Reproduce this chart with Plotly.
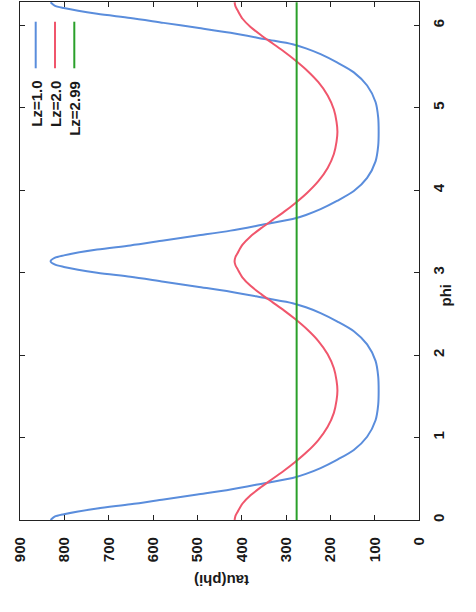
import plotly.graph_objects as go

# ---- data (phi in rad, tau(phi)) ----
phi_lz1 = [0.00, 0.04, 0.07, 0.14, 0.19, 0.25, 0.31, 0.37, 0.45, 0.51, 0.56, 0.63, 0.73, 0.85, 1.01, 1.21, 1.40, 1.57,
           1.74, 1.93, 2.13, 2.29, 2.41, 2.51, 2.58, 2.63, 2.69, 2.77, 2.83, 2.89, 2.95, 3.00, 3.07, 3.10, 3.14,
           3.18, 3.21, 3.28, 3.33, 3.39, 3.45, 3.51, 3.59, 3.65, 3.70, 3.77, 3.87, 3.99, 4.15, 4.35, 4.54, 4.71,
           4.88, 5.07, 5.27, 5.43, 5.55, 5.65, 5.72, 5.77, 5.83, 5.91, 5.97, 6.03, 6.09, 6.14, 6.21, 6.24, 6.28]
tau_lz1 = [831, 822, 801, 726, 651, 576, 500, 425, 345, 285, 255, 222, 185, 147, 117, 98, 92, 91,
           92, 98, 117, 147, 185, 222, 255, 285, 345, 425, 500, 576, 651, 726, 801, 822, 831,
           822, 801, 726, 651, 576, 500, 425, 345, 285, 255, 222, 185, 147, 117, 98, 92, 91,
           92, 98, 117, 147, 185, 222, 255, 285, 345, 425, 500, 576, 651, 726, 801, 822, 831]

phi_lz2 = [0.00, 0.05, 0.10, 0.20, 0.30, 0.40, 0.50, 0.60, 0.70, 0.83, 0.97, 1.13, 1.30, 1.45, 1.57,
           1.69, 1.84, 2.01, 2.17, 2.31, 2.44, 2.54, 2.64, 2.74, 2.84, 2.94, 3.04, 3.09, 3.14,
           3.19, 3.24, 3.34, 3.44, 3.54, 3.64, 3.74, 3.84, 3.97, 4.11, 4.27, 4.44, 4.59, 4.71,
           4.83, 4.98, 5.15, 5.31, 5.45, 5.58, 5.68, 5.78, 5.88, 5.98, 6.08, 6.18, 6.23, 6.28]
tau_lz2 = [416, 414, 409, 398, 380, 356, 330, 304, 280, 252, 227, 206, 192, 186, 184,
           186, 192, 206, 227, 252, 280, 304, 330, 356, 380, 398, 409, 414, 416,
           414, 409, 398, 380, 356, 330, 304, 280, 252, 227, 206, 192, 186, 184,
           186, 192, 206, 227, 252, 280, 304, 330, 356, 380, 398, 409, 414, 416]

phi_lz299 = [0.00, 6.28]
tau_lz299 = [276, 276]

series_names = ["Lz=1.0", "Lz=2.0", "Lz=2.99"]
tau_ticks = [0, 100, 200, 300, 400, 500, 600, 700, 800, 900]
phi_ticks = [0, 1, 2, 3, 4, 5, 6]

colors = ["#5a8ddc", "#f0566c", "#2aa02a"]
FONT = "Liberation Sans"
TXT = "#1a1a1a"

W, H = 476, 612
L, R, T, B = 20, 419, 2, 520


def px(x):
    return (x - L) / (R - L)


def py(y):
    return (B - y) / (B - T)


fig = go.Figure()
for name, ph, ta, c in zip(series_names, [phi_lz1, phi_lz2, phi_lz299],
                           [tau_lz1, tau_lz2, tau_lz299], colors):
    fig.add_trace(go.Scatter(x=ta, y=ph, mode="lines", name=name,
                             line=dict(color=c, width=2, shape="spline", smoothing=0.8),
                             showlegend=False))

axis_common = dict(showline=True, linecolor="#222", linewidth=1.2, mirror="ticks",
                   ticks="inside", ticklen=5, tickcolor="#222", showgrid=False,
                   zeroline=False, tickangle=-90,
                   tickfont=dict(family=FONT, size=15, color=TXT, weight="bold"))

fig.update_xaxes(range=[900, 0], tickvals=tau_ticks, ticklabelstandoff=10, **axis_common)
fig.update_yaxes(range=[0, 6.2832], tickvals=phi_ticks, side="right", ticklabelstandoff=6,
                 **axis_common)

annotations = [
    dict(text="tau(phi)", x=px(222), y=py(591), textangle=180),
    dict(text="phi", x=px(455), y=py(295), textangle=-90),
]
for a in annotations:
    a.update(xref="paper", yref="paper", showarrow=False,
             font=dict(family=FONT, size=15, color=TXT, weight="bold"))

leg_x = [35.7, 55.0, 74.3]
shapes = []
for name, c, lx in zip(series_names, colors, leg_x):
    annotations.append(dict(text=name, x=px(lx), y=py(79), xref="paper", yref="paper",
                            textangle=-90, xanchor="center", yanchor="top", showarrow=False,
                            font=dict(family=FONT, size=15, color=TXT, weight="bold")))
    shapes.append(dict(type="line", xref="paper", yref="paper", x0=px(lx), x1=px(lx),
                       y0=py(21.7), y1=py(68.3), line=dict(color=c, width=2)))

fig.update_layout(width=W, height=H, margin=dict(l=L, r=W - R, t=T, b=H - B),
                  paper_bgcolor="white", plot_bgcolor="white",
                  annotations=annotations, shapes=shapes, showlegend=False)

fig.write_html("out.html")
